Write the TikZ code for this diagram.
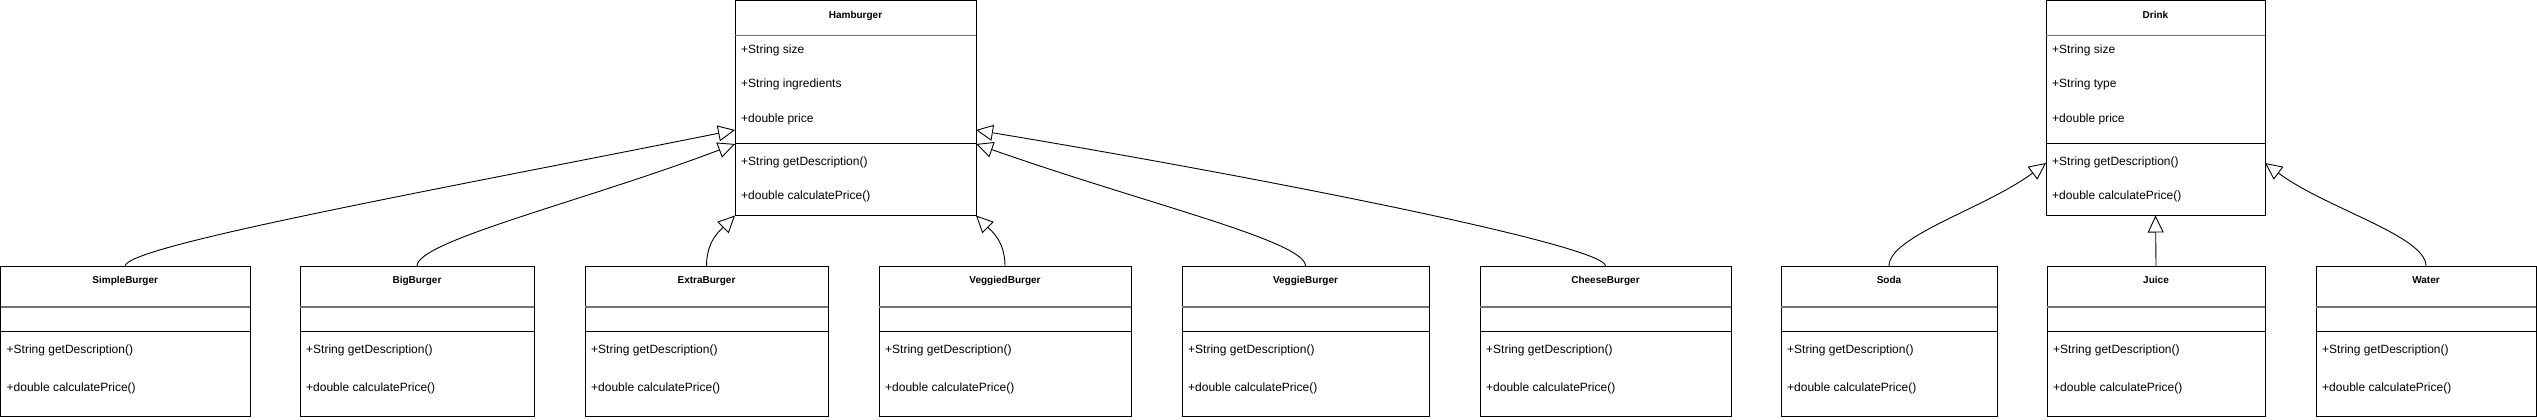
\documentclass[tikz,border=0pt]{standalone}
\usepackage{fontspec}
\setmainfont{Liberation Sans}
\usetikzlibrary{arrows.meta}
\usetikzlibrary{calc}
\usetikzlibrary{positioning}

\tikzset{
    classbox/.style={draw=black, line width=1pt, fill=white, inner sep=0pt, outer sep=0pt, anchor=north west},
    headline/.style={draw=black!55, line width=1.5pt},
    divline/.style={draw=black, line width=1pt},
    title/.style={font=\bfseries, anchor=base, inner sep=0pt},
    member/.style={anchor=base west, inner sep=0pt},
    inherit/.style={line width=0.9pt, -{Triangle[open, length=17pt, width=16pt, fill=white]}}
}

\begin{document}
\begin{tikzpicture}[x=1pt, y=-1pt, font=\fontsize{12}{14}\selectfont]
    \useasboundingbox (0,0) rectangle (2537,420);
    \foreach \nm/\lbl/\xl/\xr/\attr in {hamburger/Hamburger/735/976/ingredients, drink/Drink/2046/2265/type} {
        \pgfmathsetmacro{\w}{\xr-\xl}
        \node[classbox, minimum width=\w pt, minimum height=215pt] (\nm) at (\xl,0.5) {};
        \draw[headline] ($(\nm.north west)+(0,35)$) -- ($(\nm.north east)+(0,35)$);
        \draw[divline] ($(\nm.north west)+(0,143)$) -- ($(\nm.north east)+(0,143)$);
        \node[title] (\nm-t) at ($(\nm.north)+(0,18)$) {\lbl};
        \node[member] (\nm-a1) at ($(\nm.north west)+(6,52.5)$) {+String size};
        \node[member] (\nm-a2) at ($(\nm.north west)+(6,86.5)$) {+String \attr};
        \node[member] (\nm-a3) at ($(\nm.north west)+(6,122)$) {+double price};
        \node[member] (\nm-m1) at ($(\nm.north west)+(6,164.5)$) {+String getDescription()};
        \node[member] (\nm-m2) at ($(\nm.north west)+(6,198.5)$) {+double calculatePrice()};
    }
    \foreach \nm/\lbl/\xl/\xr in {simple/SimpleBurger/0.5/250, big/BigBurger/300/534, extra/ExtraBurger/585/828, veggied/VeggiedBurger/879/1131, veggie/VeggieBurger/1182/1429, cheese/CheeseBurger/1480/1731, soda/Soda/1781/1997, juice/Juice/2047/2265, water/Water/2316/2536} {
        \pgfmathsetmacro{\w}{\xr-\xl}
        \node[classbox, minimum width=\w pt, minimum height=150pt] (\nm) at (\xl,266) {};
        \draw[headline] ($(\nm.north west)+(0,41)$) -- ($(\nm.north east)+(0,41)$);
        \draw[divline] ($(\nm.north west)+(0,65)$) -- ($(\nm.north east)+(0,65)$);
        \node[title] (\nm-t) at ($(\nm.north)+(0,17.5)$) {\lbl};
        \node[member] (\nm-m1) at ($(\nm.north west)+(6,87.5)$) {+String getDescription()};
        \node[member] (\nm-m2) at ($(\nm.north west)+(6,125.5)$) {+double calculatePrice()};
    }
    \draw[inherit] (simple.north) .. controls +(0,-20) and +(-300,60) .. ([yshift=-22pt]hamburger.west);
    \draw[inherit] (big.north) .. controls +(0,-25) and +(-150,57) .. ([yshift=-36pt]hamburger.west);
    \draw[inherit] (extra.north) .. controls +(0,-25) and +(-15,15) .. (hamburger.south west);
    \draw[inherit] (veggied.north) .. controls +(0,-25) and +(15,15) .. (hamburger.south east);
    \draw[inherit] (veggie.north) .. controls +(0,-25) and +(170,60) .. ([yshift=-36pt]hamburger.east);
    \draw[inherit] (cheese.north) .. controls +(0,-20) and +(300,50) .. ([yshift=-22pt]hamburger.east);
    \draw[inherit] (soda.north) .. controls +(0,-30) and +(-60,45) .. ([yshift=-55pt]drink.west);
    \draw[inherit] (juice.north) -- (drink.south);
    \draw[inherit] (water.north) .. controls +(0,-30) and +(60,45) .. ([yshift=-55pt]drink.east);
\end{tikzpicture}
\end{document}
